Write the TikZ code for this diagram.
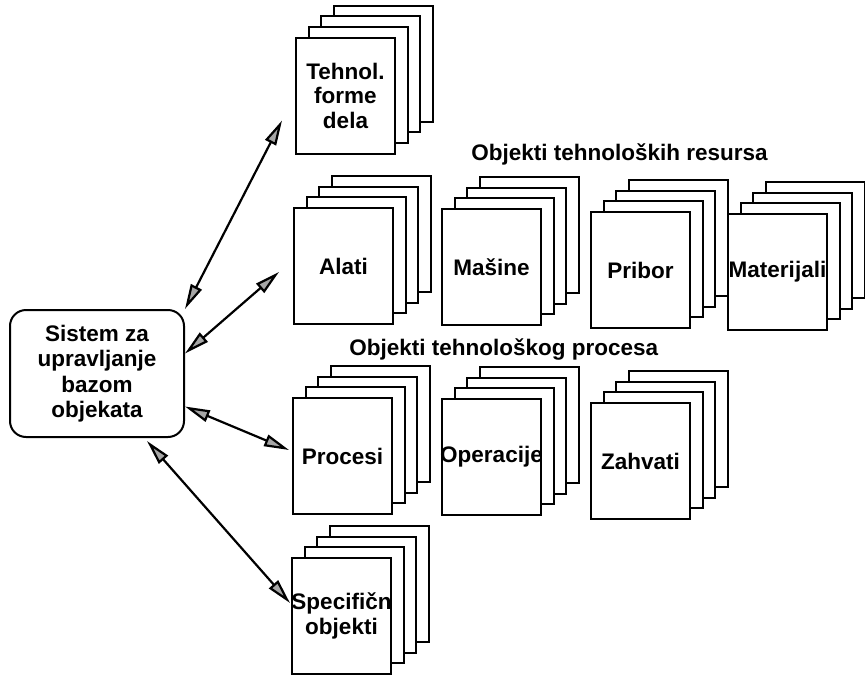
\documentclass[tikz,border=0pt]{standalone}
\usepackage{fontspec}
\setmainfont{Liberation Sans}
\usetikzlibrary{positioning,shadows,arrows.meta}

\begin{document}
\begin{tikzpicture}[x=1pt,y=-1pt,font=\fontsize{22.5}{24.5}\selectfont\bfseries,
 line width=2pt,
 >={Triangle[length=25pt,width=12pt,fill=gray!70]},
 sheet/.style={fill=white,draw,line width=2pt,shadow scale=1},
 page/.style={draw,fill=white,align=center,inner sep=0pt,
  minimum width=99pt,minimum height=116pt,
  copy shadow={sheet,shadow xshift=37.5pt,shadow yshift=32pt},
  copy shadow={sheet,shadow xshift=25pt,shadow yshift=21.4pt},
  copy shadow={sheet,shadow xshift=12.5pt,shadow yshift=10.7pt}},
 sys/.style={draw,rounded corners=16pt,align=center,inner sep=0pt,
  minimum width=174pt,minimum height=127pt,
  font=\fontsize{22.5}{25.5}\selectfont\bfseries},
 ar/.style={<->,line width=2.2pt}]
\useasboundingbox (0,0) rectangle (865,675);

\node[sys] (sys) at (97,373.5) {Sistem za\\ upravljanje\\ bazom\\ objekata};

% forme dela
\node[page] (tehn) at (345.5,95.5) {Tehnol.\\ forme\\ dela};

% resursi
\node[anchor=base west] (ttres) at (467,160) {Objekti tehnoloških resursa};
\node[page] (alati) at (343.5,266) {Alati};
\node[page,right=47pt of alati,yshift=-1pt] (masine) {Mašine};
\node[page,right=48pt of masine,yshift=-3pt] (pribor) {Pribor};
\node[page,right=36pt of pribor,yshift=-2pt] (mater) {\makebox[0pt]{Materijali}};

% proces
\node[anchor=base west] (ttproc) at (345,355) {Objekti tehnološkog procesa};
\node[page] (procesi) at (342.5,456) {Procesi};
\node[page,right=48pt of procesi,yshift=-1pt] (operac) {\makebox[0pt]{Operacije}};
\node[page,right=48pt of operac,yshift=-4pt] (zahvati) {Zahvati};

% ostalo
\node[page] (spec) at (341.5,616) {\makebox[0pt]{Specifičn}\\ objekti};

\draw[ar] (sys.north east) -- ([xshift=-13pt,yshift=-25pt]tehn.west);
\draw[ar] ([yshift=20pt]sys.east) -- ([xshift=-14pt,yshift=-6pt]alati.west);
\draw[ar] ([yshift=-33pt]sys.east) -- ([xshift=-3pt,yshift=6pt]procesi.west);
\draw[ar] ([xshift=50pt,yshift=-3pt]sys.south) -- ([xshift=-1pt,yshift=13pt]spec.west);
\end{tikzpicture}
\end{document}
